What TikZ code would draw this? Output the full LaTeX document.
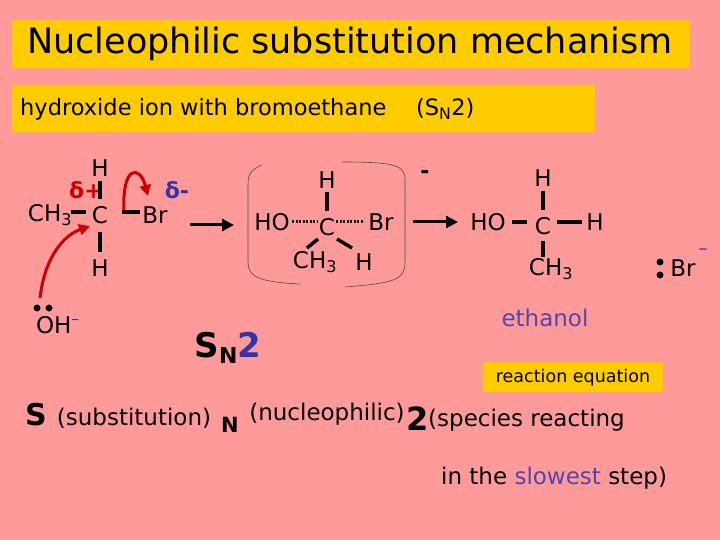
\documentclass[tikz,border=0pt]{standalone}
\usepackage{fontspec}
\setmainfont{DejaVu Sans}
\usetikzlibrary{arrows.meta}
\definecolor{bg}{HTML}{FF9A9A}
\definecolor{yel}{HTML}{FFCC00}
\definecolor{myred}{HTML}{CC0000}
\definecolor{myblue}{HTML}{3333AA}
\definecolor{mypurp}{HTML}{5544AA}
\tikzset{
 lbl/.style={inner sep=0pt,font=\fontsize{23}{25}\selectfont},
 bnd/.style={line width=3.5pt},
 dbond/.style={line width=3pt,dash pattern=on 2pt off 1.5pt},
 rarr/.style={myred,line width=3pt,-{Triangle[length=11pt,width=11pt]}},
 karr/.style={line width=3pt,-{Triangle[length=12pt,width=12pt]}},
 dot/.style={circle,fill,inner sep=0pt,minimum size=7pt}
}
\begin{document}
\begin{tikzpicture}[x=1pt,y=-1pt]
\fill[bg] (0,0) rectangle (720,540);
\useasboundingbox (0,0) rectangle (720,540);
\fill[yel] (12,20) rectangle (690,68);
\node[inner sep=0] (title) at (350,44) {\fontsize{35}{38}\selectfont Nucleophilic substitution mechanism};
\fill[yel] (12,85) rectangle (595,132);
\node[inner sep=0,anchor=west,font=\fontsize{22.5}{25}\selectfont] (sub) at (20,109) {hydroxide ion with bromoethane\quad\ (S\textsubscript{N}2)};
% left molecule
\node[lbl] (h1) at (100,168) {H};
\node[inner sep=0,text=myred,font=\bfseries\fontsize{22}{22}\selectfont] (dp) at (86,190) {δ+};
\node[lbl] (ch3) at (50,215) {CH\textsubscript{3}};
\node[lbl] (c1) at (100,215) {C};
\node[lbl] (br1) at (155,215) {Br};
\node[inner sep=0,text=myblue,font=\bfseries\fontsize{22}{22}\selectfont] (dm) at (177,190) {δ-};
\node[lbl] (h2) at (100,268) {H};
\node[lbl] (oh) at (58,325) {OH\textsuperscript{\textcolor{myblue}{–}}};
\node[dot] (d1) at (37,308) {};
\node[dot] (d2) at (49,308) {};
\draw[bnd] (100,181) -- (100,199);
\draw[bnd] (100,232) -- (100,252);
\draw[bnd] (71,212) -- (86,212);
\draw[bnd] (122,212) -- (140,212);
\draw[rarr] (40,298) .. controls (45,255) and (65,235) .. (90,226);
\draw[rarr] (124,210) .. controls (122,165) and (140,165) .. (148,196);
% arrow 1
\coordinate (a1s) at (190,225); \coordinate (a1e) at (234,225);
\draw[karr] (a1s) -- (a1e);
% transition state
\draw[line width=0.6pt,black!70] (262,165) .. controls (250,170) and (248,175) .. (248,185) -- (248,262) .. controls (248,275) and (255,282) .. (300,284);
\draw[line width=0.6pt,black!70] (342,162) .. controls (395,162) and (405,165) .. (405,180) -- (405,262) .. controls (405,280) and (395,283) .. (345,287);
\node[lbl] (th) at (327,180) {H};
\node[lbl] (tho) at (272,222) {HO};
\node[lbl] (tc) at (327,227) {C};
\node[lbl] (tbr) at (381,222) {Br};
\node[lbl] (tch3) at (315,262) {CH\textsubscript{3}};
\node[lbl] (th2) at (364,262) {H};
\draw[bnd] (327,192) -- (327,211);
\draw[dbond] (292,222) -- (318,222);
\draw[dbond] (336,222) -- (364,222);
\draw[bnd] (318,239) -- (307,248);
\draw[bnd] (337,239) -- (352,248);
\node[inner sep=0,font=\bfseries\fontsize{22}{22}\selectfont] (minus) at (425,175) {-};
% arrow 2
\coordinate (a2s) at (413,222); \coordinate (a2e) at (458,222);
\draw[karr] (a2s) -- (a2e);
% product
\node[lbl] (ph) at (543,178) {H};
\node[lbl] (pho) at (488,222) {HO};
\node[lbl] (pc) at (543,226) {C};
\node[lbl] (ph2) at (595,222) {H};
\node[lbl] (pch3) at (551,269) {CH\textsubscript{3}};
\draw[bnd] (543,191) -- (543,210);
\draw[bnd] (543,241) -- (543,257);
\draw[bnd] (512,222) -- (527,222);
\draw[bnd] (557,222) -- (582,222);
\node[dot] (bd1) at (660,262) {};
\node[dot] (bd2) at (660,275) {};
\node[lbl] (pbr) at (683,268) {Br};
\node[inner sep=0,text=myblue,font=\fontsize{18}{18}\selectfont] (pbm) at (703,252) {–};
\node[lbl,text=mypurp] (eth) at (545,318) {ethanol};
\node[inner sep=0,font=\bfseries\fontsize{34}{34}\selectfont] (sn2) at (228,348) {S\raisebox{-6pt}{\fontsize{22}{22}\selectfont N}\textcolor{myblue}{2}};
\fill[yel] (483,362) rectangle (663,392);
\node[inner sep=0,font=\fontsize{17.5}{18}\selectfont] (req) at (573,378) {reaction equation};
% bottom line
\node[inner sep=0,font=\bfseries\fontsize{30}{30}\selectfont] (bs) at (36,415) {S};
\node[lbl] (bsub) at (134,418) {(substitution)};
\node[inner sep=0,font=\bfseries\fontsize{21}{21}\selectfont] (bn) at (230,425) {N};
\node[lbl] (bnuc) at (327,414) {(nucleophilic)};
\node[inner sep=0,font=\bfseries\fontsize{32}{32}\selectfont] (b2) at (418,419) {2};
\node[lbl,anchor=west] (bsp) at (428,420) {(species reacting};
\node[lbl,anchor=west] (bsl) at (441,478) {in the \textcolor{mypurp}{slowest} step)};
\end{tikzpicture}
\end{document}
